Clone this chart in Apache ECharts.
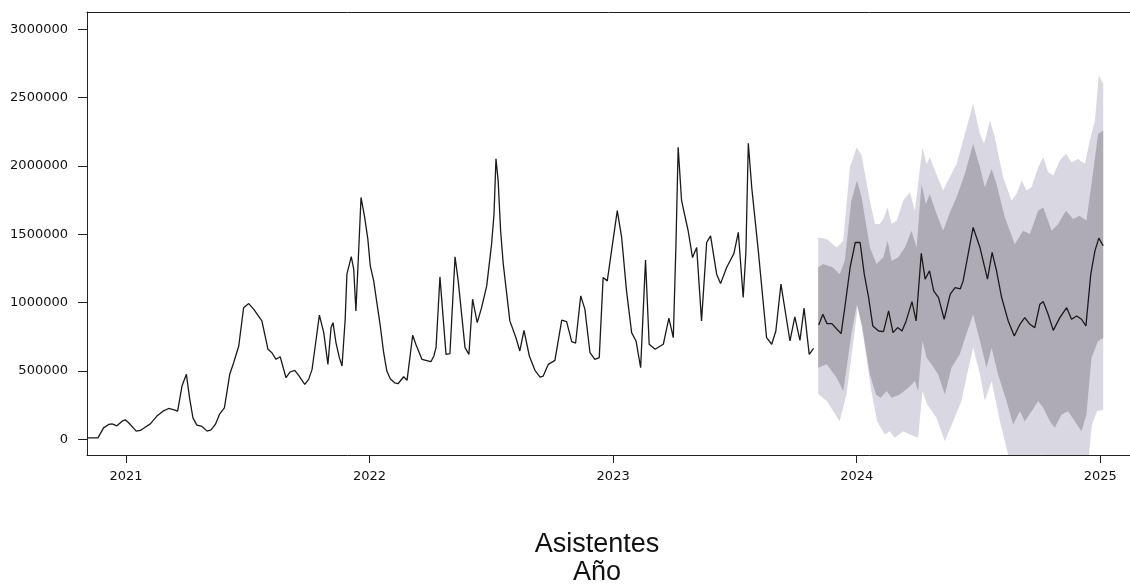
<!DOCTYPE html>
<html>
<head>
<meta charset="utf-8">
<script src="https://cdn.jsdelivr.net/npm/echarts@6/dist/echarts.min.js"></script>
<style>
html,body{margin:0;padding:0;background:#fff;}
#chart{width:1130px;height:585px;}
</style>
</head>
<body>
<div id="chart"></div>
<script>
// ---- Observed series (decimal year, attendees) ----
const histYears = [2020.840,2020.885,2020.908,2020.929,2020.943,2020.963,2020.984,2020.997,2021.011,2021.042,2021.059,2021.079,2021.100,2021.127,2021.152,2021.175,2021.198,2021.212,2021.230,2021.248,2021.261,2021.275,2021.291,2021.312,2021.333,2021.349,2021.367,2021.385,2021.404,2021.426,2021.442,2021.463,2021.483,2021.504,2021.524,2021.558,2021.583,2021.599,2021.616,2021.633,2021.657,2021.674,2021.693,2021.709,2021.734,2021.750,2021.764,2021.777,2021.794,2021.812,2021.829,2021.842,2021.850,2021.862,2021.876,2021.887,2021.900,2021.907,2021.925,2021.935,2021.944,2021.955,2021.965,2021.980,2021.993,2022.003,2022.017,2022.030,2022.044,2022.058,2022.071,2022.085,2022.103,2022.117,2022.140,2022.154,2022.177,2022.190,2022.215,2022.252,2022.264,2022.273,2022.289,2022.314,2022.330,2022.351,2022.364,2022.392,2022.408,2022.423,2022.442,2022.460,2022.481,2022.501,2022.511,2022.519,2022.528,2022.538,2022.549,2022.576,2022.601,2022.617,2022.634,2022.656,2022.679,2022.700,2022.713,2022.734,2022.761,2022.789,2022.809,2022.830,2022.846,2022.867,2022.884,2022.905,2022.925,2022.943,2022.959,2022.976,2023.017,2023.035,2023.055,2023.076,2023.094,2023.113,2023.133,2023.148,2023.172,2023.206,2023.229,2023.247,2023.258,2023.267,2023.281,2023.308,2023.326,2023.343,2023.363,2023.384,2023.400,2023.425,2023.441,2023.466,2023.496,2023.514,2023.534,2023.545,2023.555,2023.569,2023.596,2023.630,2023.651,2023.668,2023.689,2023.726,2023.746,2023.767,2023.784,2023.805,2023.823];
const histValues = [10000,10000,83000,108000,112000,98000,132000,142000,120000,59000,64000,88000,112000,169000,205000,225000,215000,205000,389000,475000,303000,156000,103000,93000,59000,68000,108000,186000,230000,475000,560000,682000,963000,993000,952000,866000,658000,633000,585000,604000,450000,492000,504000,467000,401000,438000,511000,682000,908000,780000,548000,817000,853000,707000,597000,536000,878000,1208000,1337000,1245000,939000,1367000,1770000,1624000,1465000,1269000,1159000,1000000,829000,633000,499000,442000,413000,406000,457000,431000,761000,695000,585000,567000,609000,670000,1188000,621000,626000,1335000,1159000,670000,621000,1025000,853000,963000,1122000,1428000,1649000,2052000,1893000,1526000,1282000,866000,743000,646000,797000,609000,504000,455000,462000,548000,577000,871000,861000,714000,704000,1049000,952000,633000,585000,597000,1183000,1159000,1673000,1477000,1086000,780000,719000,523000,1311000,695000,658000,695000,886000,743000,1428000,2137000,1746000,1526000,1330000,1403000,866000,1440000,1489000,1208000,1139000,1257000,1360000,1514000,1037000,1367000,2167000,1844000,1379000,743000,695000,792000,1135000,719000,895000,724000,959000,621000,665000];

// ---- Forecast mean ----
const fcYears = [2023.844,2023.861,2023.878,2023.898,2023.919,2023.936,2023.953,2023.973,2023.994,2024.014,2024.031,2024.049,2024.066,2024.090,2024.110,2024.131,2024.149,2024.168,2024.186,2024.203,2024.227,2024.244,2024.265,2024.281,2024.299,2024.316,2024.336,2024.359,2024.384,2024.404,2024.425,2024.437,2024.478,2024.506,2024.537,2024.556,2024.574,2024.595,2024.622,2024.647,2024.670,2024.690,2024.711,2024.731,2024.752,2024.766,2024.786,2024.807,2024.834,2024.862,2024.882,2024.903,2024.923,2024.941,2024.961,2024.978,2024.994,2025.012];
const fcValues = [836000,915000,846000,846000,805000,773000,988000,1257000,1440000,1440000,1208000,1037000,829000,792000,787000,939000,780000,817000,792000,866000,1007000,866000,1360000,1172000,1233000,1086000,1037000,878000,1062000,1110000,1100000,1159000,1550000,1403000,1172000,1367000,1233000,1037000,866000,756000,841000,890000,841000,817000,988000,1007000,915000,797000,890000,963000,878000,902000,878000,829000,1208000,1379000,1472000,1416000];

// ---- 95% interval ----
const hi95Years = [2023.842,2023.877,2023.918,2023.945,2023.972,2024.000,2024.020,2024.054,2024.075,2024.095,2024.109,2024.127,2024.143,2024.164,2024.191,2024.218,2024.239,2024.252,2024.270,2024.287,2024.300,2024.321,2024.355,2024.375,2024.410,2024.444,2024.478,2024.506,2024.523,2024.547,2024.567,2024.601,2024.636,2024.656,2024.677,2024.697,2024.718,2024.745,2024.766,2024.786,2024.807,2024.834,2024.859,2024.882,2024.909,2024.937,2024.957,2024.978,2024.994,2025.012];
const hi95Values = [1477000,1465000,1403000,1453000,1990000,2137000,2076000,1746000,1575000,1575000,1612000,1697000,1575000,1600000,1746000,1807000,1673000,1869000,2137000,2015000,2064000,1966000,1820000,1893000,2015000,2235000,2455000,2235000,2162000,2333000,2210000,1917000,1746000,1795000,1893000,1820000,1844000,1990000,2064000,1954000,1930000,2040000,2089000,2027000,2052000,2015000,2186000,2333000,2663000,2600000];
const lo95Years = [2023.842,2023.877,2023.930,2023.958,2023.992,2024.005,2024.026,2024.060,2024.084,2024.115,2024.136,2024.156,2024.191,2024.218,2024.252,2024.270,2024.289,2024.328,2024.362,2024.396,2024.430,2024.450,2024.478,2024.506,2024.526,2024.554,2024.588,2024.615,2024.634,2024.752,2024.760,2024.768,2024.949,2024.965,2024.986,2025.012];
const lo95Values = [330000,279000,132000,328000,792000,988000,768000,352000,132000,34000,59000,10000,59000,34000,10000,352000,255000,156000,-15000,132000,279000,450000,670000,475000,279000,426000,132000,-64000,-200000,-200000,-95000,-200000,-200000,100000,205000,215000];

// ---- 80% interval ----
const hi80Years = [2023.842,2023.862,2023.903,2023.930,2023.951,2023.978,2024.001,2024.020,2024.054,2024.081,2024.109,2024.127,2024.143,2024.170,2024.198,2024.225,2024.246,2024.266,2024.284,2024.300,2024.328,2024.355,2024.380,2024.410,2024.444,2024.478,2024.506,2024.526,2024.554,2024.574,2024.608,2024.649,2024.683,2024.711,2024.745,2024.766,2024.800,2024.827,2024.859,2024.889,2024.915,2024.943,2024.964,2024.991,2025.012];
const hi80Values = [1257000,1282000,1257000,1208000,1306000,1746000,1893000,1771000,1403000,1282000,1330000,1453000,1306000,1330000,1403000,1526000,1403000,1869000,1722000,1795000,1649000,1526000,1649000,1771000,1942000,2162000,1990000,1844000,1978000,1869000,1624000,1428000,1526000,1502000,1673000,1697000,1526000,1575000,1673000,1612000,1636000,1600000,1869000,2235000,2260000];
const lo80Years = [2023.842,2023.877,2023.918,2023.945,2023.978,2024.001,2024.023,2024.054,2024.079,2024.098,2024.123,2024.143,2024.177,2024.212,2024.239,2024.252,2024.270,2024.287,2024.307,2024.334,2024.362,2024.389,2024.423,2024.450,2024.478,2024.506,2024.533,2024.554,2024.580,2024.615,2024.642,2024.670,2024.690,2024.718,2024.745,2024.766,2024.793,2024.813,2024.841,2024.868,2024.895,2024.923,2024.943,2024.964,2024.991,2025.012];
const lo80Values = [523000,548000,450000,352000,768000,988000,817000,475000,328000,303000,352000,303000,328000,376000,426000,352000,719000,597000,548000,475000,328000,523000,621000,768000,915000,719000,523000,670000,475000,279000,108000,205000,132000,205000,279000,230000,132000,83000,181000,205000,132000,59000,181000,597000,719000,743000];

// ---- Axis ticks / labels ----
const xTicks = [2021, 2022, 2023, 2024, 2025];
const yTicks = [0, 500000, 1000000, 1500000, 2000000, 2500000, 3000000];
const titleLines = ['Asistentes', 'Año'];

const X_MIN = 2020.840, X_MAX = 2025.122;
const Y_MIN = -115700, Y_MAX = 3127400;

const zip = (a, b) => a.map((v, i) => [v, b[i]]);

function band(upY, upV, loY, loV, color) {
  return {
    type: 'custom',
    coordinateSystem: 'cartesian2d',
    clip: true,
    silent: true,
    animation: false,
    encode: { x: 0, y: 1 },
    data: [[upY[0], upV[0]]],
    z: 1,
    renderItem: function (params, api) {
      const pts = [];
      for (let i = 0; i < upY.length; i++) pts.push(api.coord([upY[i], upV[i]]));
      for (let i = loY.length - 1; i >= 0; i--) pts.push(api.coord([loY[i], loV[i]]));
      return { type: 'polygon', shape: { points: pts }, style: { fill: color, stroke: null } };
    }
  };
}

const chart = echarts.init(document.getElementById('chart'), null, { renderer: 'canvas' });
const axisFont = { fontFamily: 'DejaVu Sans', fontSize: 13, color: '#111' };
const lineCol = '#222';

chart.setOption({
  animation: false,
  backgroundColor: '#ffffff',
  grid: { left: 87, top: 12, right: 0, height: 443, show: false },
  xAxis: [{
    type: 'value', min: X_MIN, max: X_MAX,
    axisLine: { show: true, onZero: false, lineStyle: { color: lineCol, width: 1 } },
    axisTick: { show: true, length: 8, lineStyle: { color: lineCol }, customValues: xTicks },
    axisLabel: Object.assign({ margin: 15, customValues: xTicks, formatter: v => String(v) }, axisFont),
    splitLine: { show: false }
  }, {
    type: 'value', position: 'top', min: X_MIN, max: X_MAX,
    axisLine: { show: true, onZero: false, lineStyle: { color: lineCol, width: 1 } },
    axisTick: { show: false }, axisLabel: { show: false }, splitLine: { show: false }
  }],
  yAxis: {
    type: 'value', min: Y_MIN, max: Y_MAX,
    axisLine: { show: true, onZero: false, lineStyle: { color: lineCol, width: 1 } },
    axisTick: { show: true, length: 9, lineStyle: { color: lineCol }, customValues: yTicks },
    axisLabel: Object.assign({ margin: 19, customValues: yTicks, formatter: v => String(v) }, axisFont),
    splitLine: { show: false }
  },
  graphic: [
    { type: 'text', z: 10, style: { text: titleLines[0], x: 597, y: 545, textAlign: 'center', textVerticalAlign: 'middle', font: '27px "Liberation Sans", Arial, sans-serif', fill: '#111' } },
    { type: 'text', z: 10, style: { text: titleLines[1], x: 597, y: 573, textAlign: 'center', textVerticalAlign: 'middle', font: '27px "Liberation Sans", Arial, sans-serif', fill: '#111' } }
  ],
  series: [
    band(hi95Years, hi95Values, lo95Years, lo95Values, '#d9d7e2'),
    band(hi80Years, hi80Values, lo80Years, lo80Values, '#aeabb5'),
    {
      type: 'line', data: zip(histYears, histValues), showSymbol: false, z: 3,
      lineStyle: { color: '#1a1a1a', width: 1.3 }, silent: true
    },
    {
      type: 'line', data: zip(fcYears, fcValues), showSymbol: false, z: 3,
      lineStyle: { color: '#1a1a1a', width: 1.3 }, silent: true
    }
  ]
});
</script>
</body>
</html>
